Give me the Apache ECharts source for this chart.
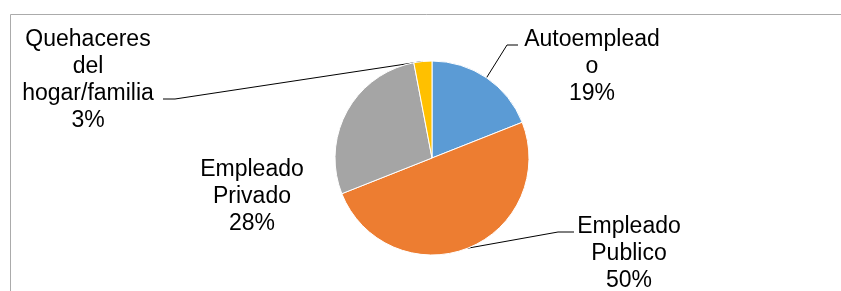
<!DOCTYPE html>
<html>
<head>
<meta charset="utf-8">
<script src="https://cdn.jsdelivr.net/npm/echarts@6/dist/echarts.min.js"></script>
<style>html,body{margin:0;padding:0;background:#fff}#c{width:841px;height:291px}</style>
</head>
<body>
<div id="c"></div>
<script>
const categories = ['Autoempleado', 'Empleado Publico', 'Empleado Privado', 'Quehaceres del hogar/familia'];
const labelTexts = ['Autoemplead\no', 'Empleado\nPublico', 'Empleado\nPrivado', 'Quehaceres\ndel\nhogar/familia'];
const percents = [19, 50, 28, 3];
const colors = ['#5B9BD5', '#ED7D31', '#A5A5A5', '#FFC000'];

// label layout (positions only)
const labelPos = [[592, 67], [629, 254], [252, 197], [88, 80]];
const lineBends = [[[507, 45], [518, 45]], [[558, 232], [574, 232]], null, [[175, 99], [163, 99]]];

const chart = echarts.init(document.getElementById('c'), null, {renderer: 'canvas'});
chart.setOption({
  animation: false,
  graphic: [{
    type: 'rect', shape: {x: 10.5, y: 14.5, width: 900, height: 400},
    style: {fill: 'none', stroke: '#ababab', lineWidth: 1}, silent: true
  }],
  series: [{
    type: 'pie',
    center: [432, 158],
    radius: 97,
    startAngle: 90,
    clockwise: true,
    avoidLabelOverlap: false,
    itemStyle: {borderColor: '#ffffff', borderWidth: 1},
    label: {
      show: true,
      position: 'outside',
      color: '#000',
      fontFamily: 'Liberation Sans, Arial, sans-serif',
      fontSize: 23,
      lineHeight: 27,
      align: 'center',
      formatter: p => labelTexts[p.dataIndex] + '\n' + p.value + '%'
    },
    labelLine: {show: true, lineStyle: {color: '#000', width: 1}},
    labelLayout: function (params) {
      const i = params.dataIndex;
      const out = {x: labelPos[i][0], y: labelPos[i][1], align: 'center', verticalAlign: 'middle'};
      if (lineBends[i] && params.labelLinePoints) {
        out.labelLinePoints = [params.labelLinePoints[0]].concat(lineBends[i]);
      }
      return out;
    },
    data: categories.map((n, i) => ({
      name: n, value: percents[i],
      itemStyle: {color: colors[i]},
      labelLine: {show: lineBends[i] !== null}
    }))
  }]
});
</script>
</body>
</html>
